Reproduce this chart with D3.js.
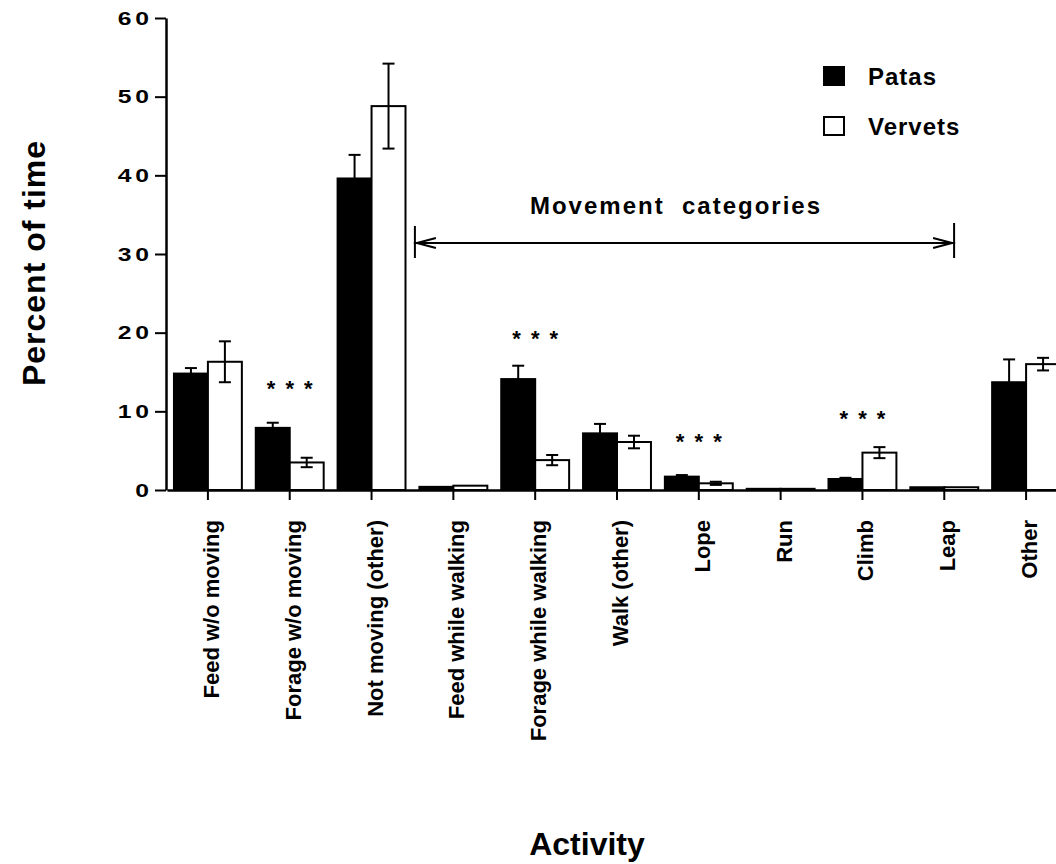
<!DOCTYPE html>
<html>
<head>
<meta charset="utf-8">
<script src="https://cdn.jsdelivr.net/npm/d3@7"></script>
<style>
  body { margin: 0; background: #fff; }
  text { font-family: "Liberation Sans", Arial, sans-serif; font-weight: bold; fill: #000; }
</style>
</head>
<body>
<div id="chart"></div>
<script>
// activity categories and series
const categories = ["Feed w/o moving", "Forage w/o moving", "Not moving (other)", "Feed while walking",
  "Forage while walking", "Walk (other)", "Lope", "Run", "Climb", "Leap", "Other"];
const series = ["Patas", "Vervets"];
const patas = [14.8, 7.9, 39.6, 0.4, 14.1, 7.2, 1.7, 0.15, 1.4, 0.35, 13.7];
const patasErr = [0.7, 0.65, 3.0, 0, 1.7, 1.2, 0.2, 0, 0.15, 0, 2.9];
const vervets = [16.3, 3.5, 48.8, 0.55, 3.8, 6.1, 0.85, 0.15, 4.75, 0.35, 16.0];
const vervetsErr = [2.6, 0.6, 5.4, 0, 0.65, 0.8, 0.2, 0, 0.7, 0, 0.8];
const yTicks = [0, 10, 20, 30, 40, 50, 60];
// significance markers (***) : category and height in data units
const sigCats = ["Forage w/o moving", "Forage while walking", "Lope", "Climb"];
const sigY = [13.6, 20.0, 6.9, 9.8];
const movementFrom = "Feed while walking";
const movementTo = "Leap";

const w = 1056, h = 864;

const svg = d3.select("#chart").append("svg")
  .attr("width", w)
  .attr("height", h);
svg.append("rect").attr("width", w).attr("height", h).attr("fill", "#fff");

const xScale = d3.scaleBand()
  .domain(categories)
  .range([167, 1067])
  .paddingInner(0.17)
  .paddingOuter(0.085);

const xSub = d3.scaleBand()
  .domain(series)
  .range([0, xScale.bandwidth()]);

const yScale = d3.scaleLinear()
  .domain([0, 60])
  .range([490, 18]);

const rows = categories.map((c, i) => ({
  cat: c,
  vals: [
    { s: "Patas", v: patas[i], e: patasErr[i] },
    { s: "Vervets", v: vervets[i], e: vervetsErr[i] }
  ]
}));

const groups = svg.selectAll("g.grp")
  .data(rows)
  .enter()
  .append("g")
  .attr("class", "grp")
  .attr("transform", d => "translate(" + xScale(d.cat) + ",0)");

groups.selectAll("rect")
  .data(d => d.vals)
  .enter()
  .append("rect")
  .attr("x", d => xSub(d.s))
  .attr("y", d => yScale(d.v))
  .attr("width", xSub.bandwidth())
  .attr("height", d => yScale(0) - yScale(d.v))
  .attr("fill", d => d.s === "Patas" ? "#000" : "#fff")
  .attr("stroke", "#000")
  .attr("stroke-width", 2);

// error bars
const errs = groups.selectAll("g.err")
  .data(d => d.vals.filter(v => v.e > 0))
  .enter()
  .append("g")
  .attr("class", "err")
  .attr("stroke", "#000")
  .attr("stroke-width", 2);

const cx = d => xSub(d.s) + xSub.bandwidth() / 2;
errs.append("line")
  .attr("x1", cx).attr("x2", cx)
  .attr("y1", d => yScale(d.v - d.e)).attr("y2", d => yScale(d.v + d.e));
errs.append("line")
  .attr("x1", d => cx(d) - 6).attr("x2", d => cx(d) + 6)
  .attr("y1", d => yScale(d.v + d.e)).attr("y2", d => yScale(d.v + d.e));
errs.append("line")
  .attr("x1", d => cx(d) - 6).attr("x2", d => cx(d) + 6)
  .attr("y1", d => yScale(d.v - d.e)).attr("y2", d => yScale(d.v - d.e));

// significance stars
svg.selectAll("text.sig")
  .data(sigCats)
  .enter()
  .append("text")
  .attr("class", "sig")
  .attr("x", d => xScale(d) + xScale.bandwidth() / 2 + 1)
  .attr("y", (d, i) => yScale(sigY[i]) + 13)
  .attr("text-anchor", "middle")
  .style("font-size", "22px")
  .style("letter-spacing", "2px")
  .text("* * *");

// axes
const xAxis = d3.axisBottom(xScale).tickSize(10).tickSizeOuter(0);
const gx = svg.append("g")
  .attr("transform", "translate(0," + yScale(0) + ")")
  .call(xAxis);
gx.select(".domain").attr("stroke-width", 2.5);
gx.selectAll(".tick line").attr("stroke-width", 2);
gx.selectAll(".tick text")
  .attr("transform", "rotate(-90)")
  .attr("x", -30)
  .attr("y", 0)
  .attr("dy", "0.5em")
  .attr("text-anchor", "end")
  .style("font-size", "22px");

const yAxis = d3.axisLeft(yScale).tickValues(yTicks).tickSize(11).tickSizeOuter(0);
const gy = svg.append("g")
  .attr("transform", "translate(166,0)")
  .call(yAxis);
gy.select(".domain").attr("stroke-width", 2.5);
gy.selectAll(".tick line").attr("stroke-width", 2);
// wide, heavy tick digits
gy.selectAll(".tick text")
  .attr("x", -10)
  .attr("transform", "scale(1.3,1)")
  .style("font-size", "19px")
  .style("letter-spacing", "3px");

// axis titles
svg.append("text")
  .attr("transform", "translate(45,263) rotate(-90)")
  .attr("text-anchor", "middle")
  .style("font-size", "32px")
  .style("letter-spacing", "1px")
  .text("Percent of time");

svg.append("text")
  .attr("x", 587)
  .attr("y", 855)
  .attr("text-anchor", "middle")
  .style("font-size", "32px")
  .text("Activity");

// movement categories span
const step = xScale.step();
const ax1 = xScale(movementFrom) + xScale.bandwidth() / 2 - 0.47 * step;
const ax2 = xScale(movementTo) + xScale.bandwidth() / 2 + 0.12 * step;
const ay = 243;
const arrow = svg.append("g").attr("stroke", "#000").attr("stroke-width", 2).attr("fill", "none");
arrow.append("line").attr("x1", ax1).attr("x2", ax2).attr("y1", ay).attr("y2", ay);
arrow.append("line").attr("x1", ax1).attr("x2", ax1).attr("y1", ay - 17).attr("y2", ay + 15);
arrow.append("line").attr("x1", ax2).attr("x2", ax2).attr("y1", ay - 20).attr("y2", ay + 15);
arrow.append("path").attr("d", `M${ax1 + 21},${ay - 5}L${ax1 + 2},${ay}L${ax1 + 21},${ay + 5}`);
arrow.append("path").attr("d", `M${ax2 - 21},${ay - 5}L${ax2 - 2},${ay}L${ax2 - 21},${ay + 5}`);

svg.append("text")
  .attr("x", 676)
  .attr("y", 214)
  .attr("text-anchor", "middle")
  .style("font-size", "24px")
  .style("letter-spacing", "2px")
  .style("white-space", "pre")
  .text("Movement  categories");

// legend
const legend = svg.selectAll("g.leg")
  .data(series)
  .enter()
  .append("g")
  .attr("class", "leg")
  .attr("transform", (d, i) => "translate(823," + (66 + i * 50) + ")");
legend.append("rect")
  .attr("x", 1).attr("y", 1)
  .attr("width", 20).attr("height", 18)
  .attr("fill", d => d === "Patas" ? "#000" : "#fff")
  .attr("stroke", "#000")
  .attr("stroke-width", 2);
legend.append("text")
  .attr("x", 45)
  .attr("y", 19)
  .style("font-size", "24px")
  .style("letter-spacing", "1px")
  .text(d => d);
</script>
</body>
</html>
